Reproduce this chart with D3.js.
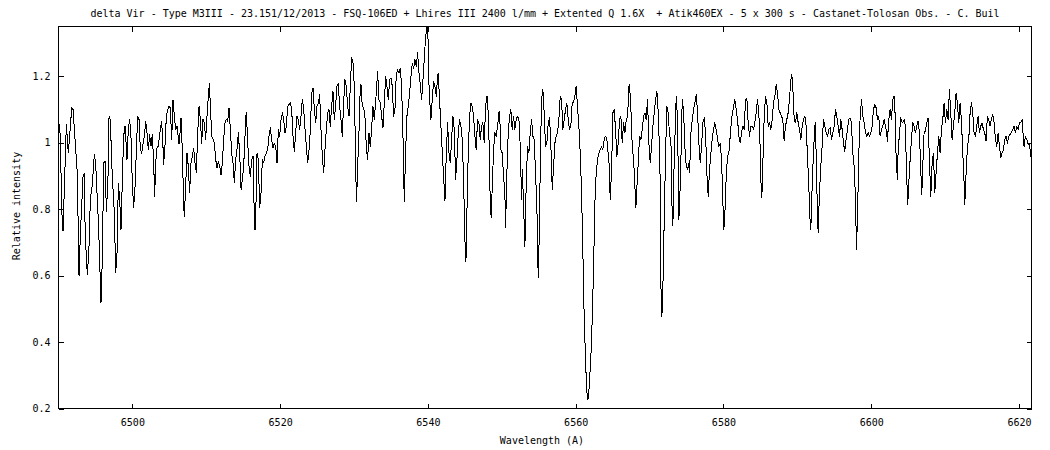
<!DOCTYPE html>
<html><head><meta charset="utf-8">
<script src="https://cdn.jsdelivr.net/npm/d3@7"></script>
<style>
body{margin:0;background:#fff;}
svg{display:block;background:#fff;}
text{font-family:"DejaVu Sans Mono","Liberation Mono",monospace;font-size:10px;fill:#000;}
</style>
</head><body>
<svg id="chart" width="1050" height="450"></svg>
<script>
const titleText = "delta Vir - Type M3III - 23.151/12/2013 - FSQ-106ED + Lhires III 2400 l/mm + Extented Q 1.6X  + Atik460EX - 5 x 300 s - Castanet-Tolosan Obs. - C. Buil";
const xLabel = "Wavelength (A)";
const yLabel = "Relative intensity";
const xDomain = [6490, 6621.7];
const yDomain = [0.2, 1.35];
const xTicks = [6500, 6520, 6540, 6560, 6580, 6600, 6620];
const yTicks = [0.2, 0.4, 0.6, 0.8, 1, 1.2];

const wavelengths = [
6489.98,6490.25,6490.43,6490.61,6491.06,6491.33,6491.51,6491.79,6491.97,6492.24,
6492.51,6492.69,6492.78,6492.96,6493.14,6493.32,6493.50,6493.59,6493.77,6493.91,
6494.13,6494.31,6494.58,6494.85,6495.03,6495.21,6495.39,6495.57,6495.75,6495.93,
6496.12,6496.30,6496.48,6496.66,6496.75,6496.84,6497.02,6497.20,6497.38,6497.56,
6497.74,6497.92,6498.10,6498.28,6498.46,6498.64,6498.82,6499.00,6499.18,6499.27,
6499.45,6499.63,6499.81,6499.99,6500.17,6500.36,6500.54,6500.72,6500.90,6501.08,
6501.26,6501.44,6501.62,6501.80,6501.98,6502.16,6502.34,6502.52,6502.70,6502.88,
6503.02,6503.15,6503.33,6503.51,6503.69,6503.96,6504.14,6504.23,6504.41,6504.60,
6504.78,6504.96,6505.14,6505.32,6505.50,6505.68,6505.86,6506.04,6506.31,6506.49,
6506.58,6506.76,6506.94,6507.03,6507.21,6507.39,6507.57,6507.75,6507.93,6508.11,
6508.29,
6508.48,6508.66,6508.84,6509.02,6509.20,6509.38,6509.56,6509.74,6509.92,6510.10,
6510.28,6510.42,6510.56,6510.74,6510.92,6511.10,6511.28,6511.46,6511.64,6511.82,
6512.00,6512.18,6512.36,6512.54,6512.72,6512.90,6513.08,6513.26,6513.44,6513.62,
6513.80,6513.98,6514.16,6514.34,6514.52,6514.71,6514.98,6515.16,6515.34,6515.43,
6515.61,6515.79,6515.97,6516.15,6516.33,6516.51,6516.60,6516.78,6516.87,6517.05,
6517.23,6517.41,6517.59,6517.77,6517.95,6518.13,6518.31,6518.49,6518.67,6518.85,
6519.04,6519.22,6519.40,6519.58,6519.76,6519.94,6520.12,6520.30,6520.48,6520.66,
6520.84,6521.02,6521.20,6521.38,6521.56,6521.74,6521.92,6522.10,6522.28,6522.46,
6522.64,6522.82,6523.00,6523.18,6523.37,6523.55,6523.73,6523.91,6524.09,6524.27,
6524.45,6524.63,6524.81,6524.99,6525.17,6525.35,6525.53,6525.71,6525.89,6526.07,
6526.25,6526.43,6526.61,6526.79,6526.97,6527.15,
6527.33,6527.51,6527.69,6527.87,6528.05,6528.23,6528.41,6528.59,6528.77,6528.95,
6529.14,6529.32,6529.50,6529.68,6529.86,6530.04,6530.13,6530.22,6530.35,6530.49,
6530.67,6530.85,6530.94,6531.12,6531.30,6531.48,6531.66,6531.84,6532.02,6532.20,
6532.38,6532.56,6532.74,6532.92,6533.10,6533.19,6533.38,6533.56,6533.74,6533.92,
6534.10,6534.28,6534.46,6534.64,6534.82,6535.00,6535.18,6535.36,6535.54,6535.72,
6535.90,6536.08,6536.26,6536.44,6536.62,6536.71,6536.80,6536.98,6537.16,6537.34,
6537.52,6537.71,6537.89,6538.07,6538.25,6538.43,6538.61,6538.79,6538.97,6539.15,
6539.33,6539.51,6539.69,6539.87,6539.96,6540.05,6540.14,6540.32,6540.41,6540.59,
6540.77,6540.95,6541.13,6541.31,6541.40,6541.58,6541.76,6541.95,6542.13,6542.31,
6542.49,6542.67,6542.85,6543.03,6543.21,6543.39,6543.57,6543.75,6543.93,6544.11,
6544.29,6544.47,6544.65,6544.83,6545.01,6545.15,6545.28,6545.46,6545.64,6545.82,
6546.00,6546.18,6546.36,6546.54,6546.72,6546.90,6547.08,6547.26,6547.44,6547.62,
6547.81,6547.99,6548.08,6548.26,6548.44,6548.57,6548.71,6548.89,6549.07,6549.25,
6549.43,6549.61,6549.70,6549.88,6550.06,6550.24,6550.42,6550.51,6550.69,6550.87,
6551.05,6551.23,6551.41,6551.59,6551.77,6551.95,6552.14,6552.32,6552.50,6552.68,
6552.77,6552.86,6553.04,6553.13,6553.31,6553.49,6553.67,6553.85,6554.03,6554.21,
6554.39,6554.57,6554.75,6554.93,6555.07,6555.20,6555.38,6555.56,6555.74,6555.92,
6556.10,6556.29,6556.47,6556.65,6556.83,6557.01,6557.19,6557.37,6557.55,6557.73,
6557.91,6558.09,6558.27,6558.45,6558.63,6558.81,6558.99,6559.17,6559.35,6559.53,
6559.71,6559.89,6560.07,6560.25,6560.43,6560.62,6560.80,6560.98,6561.16,6561.34,
6561.47,6561.61,6561.74,6561.88,6562.06,6562.24,6562.42,6562.60,6562.78,6562.96,
6563.14,6563.32,6563.50,6563.68,6563.86,6564.04,6564.22,6564.40,6564.50,
6564.68,6564.86,6565.04,6565.22,6565.40,6565.58,6565.76,6565.94,6566.12,6566.30,
6566.49,6566.67,6566.85,6567.03,6567.21,6567.30,6567.48,6567.66,6567.84,6568.02,
6568.15,6568.29,6568.47,6568.65,6568.83,6569.01,6569.19,6569.37,6569.55,6569.73,
6569.91,6570.09,6570.27,6570.45,6570.63,6570.82,6571.00,6571.18,6571.36,6571.45,
6571.54,6571.67,6571.81,6571.99,6572.17,6572.35,6572.53,6572.71,6572.89,6573.07,
6573.16,6573.34,6573.52,6573.61,6573.79,6573.97,6574.15,6574.33,6574.42,6574.60,
6574.78,6574.97,6575.15,6575.33,6575.42,6575.60,6575.78,6575.96,6576.14,6576.32,
6576.50,6576.68,6576.86,6577.04,6577.22,6577.40,6577.58,6577.76,6577.94,6578.12,
6578.30,6578.48,6578.66,6578.84,6579.02,6579.21,6579.39,6579.57,6579.75,6579.93,
6580.06,6580.20,6580.38,6580.56,6580.74,6580.92,6581.10,6581.37,6581.55,6581.73,
6581.91,6582.09,6582.27,6582.45,6582.63,6582.81,6582.99,6583.17,
6583.35,6583.53,6583.71,6583.89,6584.07,6584.25,6584.43,6584.61,6584.79,6584.97,
6585.06,6585.20,6585.34,6585.52,6585.70,6585.88,6586.06,6586.24,6586.42,6586.60,
6586.78,6586.96,6587.14,6587.32,6587.50,6587.68,6587.86,6588.04,6588.22,6588.40,
6588.58,6588.76,6588.94,6589.12,6589.26,6589.39,6589.58,6589.76,6589.94,6590.12,
6590.30,6590.48,6590.66,6590.84,6591.02,6591.20,6591.38,6591.56,6591.74,6591.83,
6592.01,6592.19,6592.37,6592.46,6592.64,6592.82,6593.00,6593.18,6593.36,6593.54,
6593.73,6593.91,6594.09,6594.27,6594.45,6594.63,6594.81,6594.99,6595.17,6595.35,
6595.53,6595.71,6595.89,6596.07,6596.25,6596.43,6596.61,6596.79,6596.97,6597.15,
6597.33,6597.51,6597.69,6597.87,6598.01,6598.15,6598.33,6598.51,6598.69,6598.87,
6599.05,6599.23,6599.41,6599.59,6599.77,6599.95,6600.13,6600.31,6600.49,6600.67,
6600.85,6601.03,6601.21,6601.39,6601.57,6601.75,
6602.02,6602.20,6602.38,6602.56,6602.74,6602.92,6603.10,6603.28,6603.37,6603.55,
6603.64,6603.83,6604.01,6604.19,6604.37,6604.55,6604.64,6604.82,6604.95,6605.09,
6605.27,6605.45,6605.63,6605.81,6605.99,6606.17,6606.35,6606.53,6606.71,6606.85,
6606.98,6607.16,6607.34,6607.52,6607.70,6607.88,6608.07,6608.25,6608.43,6608.61,
6608.79,6608.97,6609.15,6609.33,6609.51,6609.69,6609.87,6610.05,6610.23,6610.41,
6610.59,6610.77,6610.95,6611.13,6611.31,6611.49,6611.67,6611.85,6612.03,6612.21,
6612.40,6612.58,6612.67,6612.85,6613.03,6613.21,6613.39,6613.57,6613.75,6613.93,
6614.11,6614.29,6614.47,6614.65,6614.83,6615.01,6615.19,6615.37,6615.55,6615.73,
6615.91,6616.09,6616.27,6616.45,6616.64,6616.82,6617.00,6617.18,6617.36,6617.54,
6617.72,6617.90,6618.08,6618.26,6618.44,6618.62,6618.80,6618.98,6619.16,6619.34,
6619.52,6619.70,6619.88,6620.06,6620.24,6620.42,6620.51,6620.69,6620.87,6621.06,
6621.24,6621.42,6621.60,6621.69
];

const intensities = [
1.075,1.020,0.799,0.733,1.055,0.969,1.020,1.105,1.100,1.010,
0.919,0.728,0.598,0.728,0.809,0.899,0.909,0.759,0.648,0.603,
0.688,0.829,0.874,0.964,0.939,0.849,0.769,0.648,0.518,0.648,
0.939,0.944,0.794,0.869,0.939,1.080,1.070,0.939,0.859,0.789,
0.608,0.668,0.879,0.829,0.738,0.889,1.020,1.050,0.990,0.949,
1.040,1.070,1.020,0.879,0.804,0.869,0.979,1.080,1.070,0.979,
0.969,0.995,1.020,1.065,1.030,0.979,1.025,0.990,1.025,0.939,
0.839,0.939,0.984,0.990,1.025,1.065,0.990,0.934,0.990,1.080,
1.100,1.110,1.105,1.010,1.130,1.080,1.040,1.050,0.995,1.040,
1.075,0.979,0.814,0.779,0.869,0.969,0.929,0.849,0.939,0.959,
0.984,
0.939,0.909,1.030,1.110,1.070,0.999,1.070,1.060,1.010,1.080,
1.140,1.180,1.110,1.020,1.010,0.999,0.949,0.924,0.944,0.929,
0.904,0.939,1.010,1.060,1.070,1.065,1.105,1.040,0.969,0.939,
0.879,0.949,0.979,1.030,0.969,0.859,0.909,0.969,1.080,1.090,
0.999,0.929,0.899,0.949,0.959,0.769,0.738,0.849,0.969,0.949,
0.804,0.849,0.949,0.939,0.959,0.969,0.979,1.020,1.045,1.010,
0.984,0.999,0.989,0.939,1.040,1.020,1.070,1.090,1.070,1.030,
1.050,1.110,1.115,1.120,1.100,1.020,0.974,1.030,1.080,1.070,
1.040,1.080,1.130,1.105,1.040,0.989,0.939,0.979,1.040,1.150,
1.165,1.100,1.060,1.110,1.120,1.145,1.040,0.959,0.909,0.979,
1.040,1.090,1.100,1.050,1.110,1.155,
1.070,1.110,1.170,1.180,1.110,1.070,1.020,1.120,1.190,1.170,
1.110,1.080,1.170,1.256,1.240,1.170,1.060,0.919,0.824,0.929,
1.030,1.170,1.175,1.110,1.105,1.080,0.989,0.949,1.030,0.989,
1.040,1.110,1.070,1.120,1.180,1.215,1.130,1.120,1.080,1.045,
1.120,1.200,1.170,1.130,1.190,1.195,1.170,1.080,1.100,1.205,
1.220,1.210,1.225,1.170,1.030,0.919,0.824,0.969,1.080,1.110,
1.150,1.200,1.240,1.225,1.251,1.230,1.271,1.210,1.175,1.130,
1.190,1.251,1.321,1.346,1.360,1.281,1.180,1.100,1.070,1.130,
1.185,1.170,1.140,1.200,1.210,1.130,1.050,0.969,0.899,0.824,
0.969,1.060,0.969,0.939,1.010,1.080,1.040,0.889,0.949,1.030,
1.070,1.050,1.010,0.889,0.708,0.643,0.789,0.969,1.080,1.120,
1.110,1.080,1.020,0.979,1.070,1.060,1.010,1.050,1.060,0.999,
1.110,1.140,1.135,1.020,0.819,0.774,0.869,0.979,1.030,1.020,
1.050,1.090,1.095,0.979,0.969,0.899,0.849,0.744,0.909,1.030,
1.080,1.100,1.040,1.080,1.040,1.070,1.080,1.070,0.989,0.829,
0.919,0.869,0.749,0.688,0.879,0.989,0.969,1.030,1.070,1.020,
1.010,0.909,0.809,0.593,0.718,0.919,1.130,1.160,1.090,0.989,
0.999,1.060,1.075,0.989,0.859,0.929,0.999,1.020,1.030,1.070,
1.140,1.130,1.040,1.070,1.100,1.120,1.070,1.040,1.050,1.120,
1.120,1.140,1.170,1.110,1.050,0.969,0.849,0.668,0.467,0.347,
0.267,0.226,0.231,0.287,0.357,0.467,0.618,0.819,0.909,0.949,
0.969,0.979,0.989,0.979,1.010,1.020,1.010,0.969,0.949,
0.829,0.919,1.090,1.100,1.040,0.959,0.999,1.070,1.080,0.999,
1.060,1.030,1.070,1.080,1.170,1.175,1.100,0.989,0.949,0.869,
0.804,0.869,0.939,1.020,1.010,1.040,1.080,1.090,1.070,1.130,
0.999,0.939,0.989,1.050,1.090,1.130,1.155,1.090,0.969,0.869,
0.568,0.477,0.568,0.769,0.969,1.110,1.090,1.020,1.010,0.769,
0.749,0.949,1.070,1.140,1.070,0.769,0.869,1.020,1.130,1.100,
0.989,0.929,0.919,0.939,0.909,1.030,1.070,1.100,1.120,1.145,
1.090,0.999,0.939,0.989,1.060,1.075,1.030,0.909,0.839,0.919,
0.969,1.010,1.040,1.060,1.040,1.010,0.989,0.999,0.949,0.819,
0.738,0.789,0.899,0.959,0.969,1.020,1.070,1.110,1.130,1.100,
1.070,1.020,0.999,1.030,1.050,1.040,1.130,1.135,
1.060,1.020,1.050,1.050,1.040,1.060,1.090,1.130,1.090,0.989,
0.889,0.834,0.939,1.080,1.140,1.120,1.050,1.060,1.040,1.070,
1.120,1.140,1.175,1.150,1.100,1.090,1.080,1.070,1.005,1.050,
1.070,1.090,1.130,1.190,1.205,1.170,1.070,1.060,1.090,1.060,
1.040,1.010,1.050,1.070,1.080,1.050,0.959,0.869,0.759,0.738,
0.869,0.969,1.050,1.060,0.869,0.728,0.849,0.929,0.989,1.070,
1.050,1.030,1.020,1.040,1.045,1.010,1.030,1.050,1.100,1.080,
1.050,1.020,1.070,1.040,0.999,0.974,1.010,1.040,1.070,1.075,
1.060,0.969,0.929,0.839,0.678,0.779,0.969,1.080,1.130,1.080,
1.060,1.030,1.020,1.030,1.020,1.030,1.050,1.100,1.115,1.105,
1.070,1.080,1.020,1.040,1.050,1.070,
1.040,1.005,1.070,1.100,1.070,1.130,1.140,1.070,0.959,0.889,
0.969,1.030,1.075,1.060,1.065,1.070,1.030,0.889,0.814,0.879,
0.949,1.010,1.060,1.050,1.030,1.050,1.065,1.030,0.919,0.844,
0.929,1.030,1.035,1.060,1.075,0.949,0.839,0.939,0.969,0.849,
0.909,0.969,1.020,0.969,1.040,1.070,1.120,1.060,1.100,1.070,
1.160,1.090,1.010,1.050,1.090,1.150,1.120,1.060,1.120,1.070,
0.969,0.879,0.814,0.909,0.989,1.010,1.090,1.120,1.090,1.030,
1.020,1.050,1.080,1.030,1.050,1.060,1.040,1.030,1.005,1.080,
1.070,1.050,1.070,1.085,1.060,1.010,0.989,1.030,0.989,0.954,
0.969,0.979,1.010,1.020,0.999,1.020,1.025,1.030,1.040,1.050,
1.030,1.050,1.040,1.060,1.060,1.070,1.040,0.989,1.020,1.010,
0.994,0.999,0.959,0.979
];

const W = 1050, H = 450;
const plot = {left: 58.5, right: 1031.5, top: 26.5, bottom: 408.5};

const svg = d3.select("#chart");
svg.append("rect").attr("width", W).attr("height", H).attr("fill", "#fff");

const x = d3.scaleLinear().domain(xDomain).range([plot.left, plot.right]);
const y = d3.scaleLinear().domain(yDomain).range([plot.bottom, plot.top]);

const defs = svg.append("defs");
defs.append("clipPath").attr("id", "plotclip")
  .append("rect")
  .attr("x", plot.left).attr("y", plot.top - 0.5)
  .attr("width", plot.right - plot.left).attr("height", plot.bottom - plot.top + 0.5);

// Axes (ticks inward on all four sides)
const tick = 5;
const gB = svg.append("g").attr("transform", `translate(0,${plot.bottom})`)
  .call(d3.axisBottom(x).tickValues(xTicks).tickSizeInner(-tick).tickSizeOuter(0).tickPadding(10).tickFormat(d3.format("d")));
const gT = svg.append("g").attr("transform", `translate(0,${plot.top})`)
  .call(d3.axisTop(x).tickValues(xTicks).tickSizeInner(-tick).tickSizeOuter(0).tickFormat(""));
const gL = svg.append("g").attr("transform", `translate(${plot.left},0)`)
  .call(d3.axisLeft(y).tickValues(yTicks).tickSizeInner(-tick).tickSizeOuter(0).tickPadding(8).tickFormat(d => String(d)));
const gR = svg.append("g").attr("transform", `translate(${plot.right},0)`)
  .call(d3.axisRight(y).tickValues(yTicks).tickSizeInner(-tick).tickSizeOuter(0).tickFormat(""));

[gB, gT, gL, gR].forEach(g => {
  g.select(".domain").remove();
  g.selectAll("line").attr("stroke", "#000").attr("shape-rendering", "crispEdges");
  g.selectAll("text").attr("fill", "#000")
    .style("font-family", '"DejaVu Sans Mono","Liberation Mono",monospace')
    .style("font-size", "10px");
});

// Spectrum line
const line = d3.line()
  .x(i => x(wavelengths[i]))
  .y(i => y(intensities[i]));

svg.append("path")
  .attr("clip-path", "url(#plotclip)")
  .attr("d", line(d3.range(wavelengths.length)))
  .attr("fill", "none")
  .attr("stroke", "#000")
  .attr("stroke-width", 1)
  .attr("stroke-linejoin", "round")
  .attr("shape-rendering", "crispEdges");

// Frame
svg.append("rect")
  .attr("x", plot.left).attr("y", plot.top)
  .attr("width", plot.right - plot.left).attr("height", plot.bottom - plot.top)
  .attr("fill", "none").attr("stroke", "#000").attr("stroke-width", 1)
  .attr("shape-rendering", "crispEdges");

// Title and axis labels
svg.append("text")
  .attr("x", (plot.left + plot.right) / 2).attr("y", 17)
  .attr("text-anchor", "middle")
  .style("white-space", "pre")
  .attr("xml:space", "preserve")
  .text(titleText);

svg.append("text")
  .attr("x", (plot.left + plot.right) / 2 - 3).attr("y", 444)
  .attr("text-anchor", "middle")
  .text(xLabel);

svg.append("text")
  .attr("transform", "translate(20,206) rotate(-90)")
  .attr("text-anchor", "middle")
  .text(yLabel);
</script>
</body></html>
